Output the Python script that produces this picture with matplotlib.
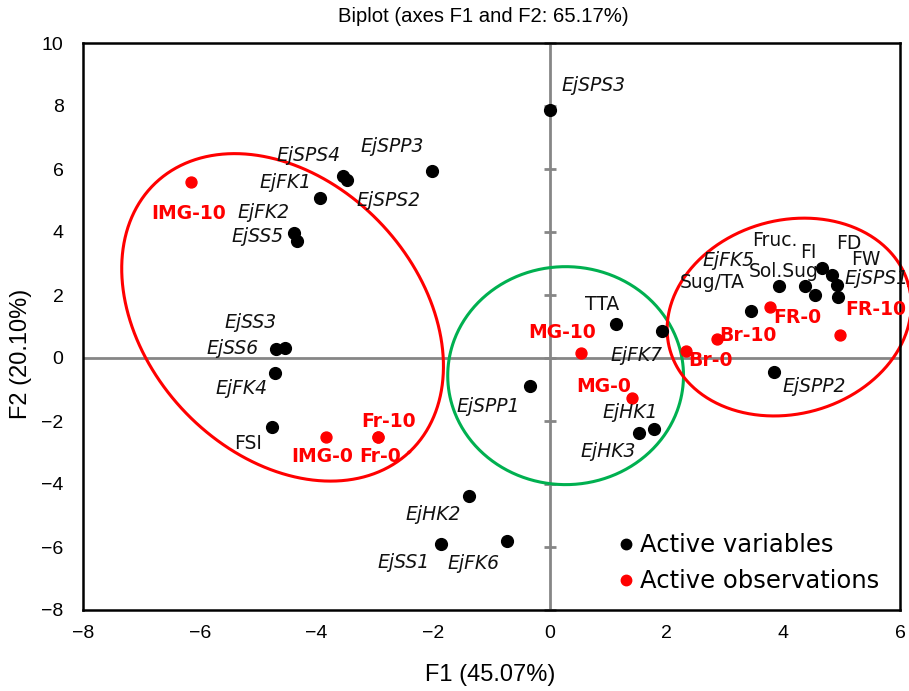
import numpy as np
import matplotlib
matplotlib.use("Agg")
import matplotlib.pyplot as plt
from matplotlib.lines import Line2D

# ---------------- data ----------------
var_names = ["EjSPS3", "EjSPP3", "EjSPS4", "EjSPS2", "EjFK1", "EjFK2", "EjSS5",
             "EjSS3", "EjSS6", "EjFK4", "FSI", "EjSPP1", "TTA", "EjFK7",
             "EjHK1", "EjHK3", "EjHK2", "EjSS1", "EjFK6", "Sug/TA", "EjFK5",
             "Sol.Sug", "Fruc.", "FI", "FD", "FW", "EjSPS1", "EjSPP2"]
var_f1 = [0.00, -2.02, -3.55, -3.48, -3.94, -4.38, -4.33,
          -4.54, -4.69, -4.71, -4.76, -0.34, 1.13, 1.92,
          1.78, 1.52, -1.39, -1.87, -0.74, 3.44, 3.92,
          4.37, 4.54, 4.66, 4.83, 4.92, 4.93, 3.84]
var_f2 = [7.87, 5.94, 5.78, 5.65, 5.08, 3.97, 3.71,
          0.32, 0.29, -0.48, -2.19, -0.89, 1.08, 0.86,
          -2.25, -2.38, -4.38, -5.90, -5.81, 1.49, 2.29,
          2.29, 2.00, 2.86, 2.63, 2.32, 1.94, -0.44]

obs_names = ["IMG-10", "IMG-0", "Fr-0", "Fr-10", "MG-10", "MG-0",
             "Br-0", "Br-10", "FR-0", "FR-10"]
obs_f1 = [-6.15, -3.84, -2.95, -2.95, 0.53, 1.41, 2.34, 2.86, 3.77, 4.98]
obs_f2 = [5.59, -2.51, -2.51, -2.51, 0.16, -1.27, 0.22, 0.60, 1.62, 0.73]

x_ticks = [-8, -6, -4, -2, 0, 2, 4, 6]
y_ticks = [-8, -6, -4, -2, 0, 2, 4, 6, 8, 10]

title = "Biplot (axes F1 and F2: 65.17%)"
xlabel = "F1 (45.07%)"
ylabel = "F2 (20.10%)"
legend_labels = ["Active variables", "Active observations"]

# ---------------- layout (label offsets in pixels) ----------------
var_offsets = [(44, 25), (-40, 24), (-34, 20), (42, -20), (-34, 15), (-31, 20), (-40, 5),
               (-34, 25), (-44, 0), (-33, -15), (-24, -17), (-42, -20), (-14, 19), (-25, -25),
               (-24, 16), (-30, -19), (-36, -19), (-37, -19), (-33, -22), (-38, 29), (-50, 25),
               (-21, 14), (-40, 55), (-13, 15), (17, 32), (29, 25), (39, 18), (40, -15)]
obs_offsets = [(-2, -32), (-4, -19), (2, -19), (11, 16), (-19, 20), (-28, 12),
               (24, -9), (31, 4), (27, -11), (35, 26)]
italic_vars = [n.startswith("Ej") for n in var_names]

# ellipses: center, first axis vector, second axis vector (data units)
ellipses = [
    ((-4.58, 1.29), (2.17, -4.28), (-1.70, -2.95), "#FF0000"),
    ((0.27, -0.56), (2.02, 0.0), (0.0, 3.46), "#00B050"),
    ((4.10, 1.30), (2.045, 1.025), (0.434, -2.968), "#FF0000"),
]

W, H, DPI = 909, 691, 100
fig = plt.figure(figsize=(W / DPI, H / DPI), dpi=DPI)
ax = fig.add_axes([83 / W, 81 / H, 817 / W, 567 / H])
ax.set_xlim(-8, 6)
ax.set_ylim(-8, 10)

gray = "#868686"
ax.axhline(0, color=gray, lw=2.0, zorder=1)
ax.axvline(0, color=gray, lw=2.0, zorder=1)
ax.plot(np.zeros(len(y_ticks)), y_ticks, ls="none", marker="_", ms=9,
        mew=2.0, color=gray, clip_on=False, zorder=1)

t = np.linspace(0, 2 * np.pi, 500)
for (cx, cy), (ux, uy), (vx, vy), col in ellipses:
    ax.plot(cx + ux * np.cos(t) + vx * np.sin(t),
            cy + uy * np.cos(t) + vy * np.sin(t),
            color=col, lw=2.2, clip_on=False, zorder=2)

ax.scatter(var_f1, var_f2, s=72, color="black", zorder=4, clip_on=False)
ax.scatter(obs_f1, obs_f2, s=62, color="#FF0000", zorder=5, clip_on=False)

for n, x, y, (dx, dy), it in zip(var_names, var_f1, var_f2, var_offsets, italic_vars):
    ax.annotate(n, (x, y), xytext=(dx, dy), textcoords="offset pixels",
                ha="center", va="center", fontsize=13.5,
                style="italic" if it else "normal", color="#111111",
                family="DejaVu Sans", annotation_clip=False, zorder=6)
for n, x, y, (dx, dy) in zip(obs_names, obs_f1, obs_f2, obs_offsets):
    ax.annotate(n, (x, y), xytext=(dx, dy), textcoords="offset pixels",
                ha="center", va="center", fontsize=13.5, fontweight="bold",
                color="#FF0000", family="DejaVu Sans",
                annotation_clip=False, zorder=6)

for s in ax.spines.values():
    s.set_linewidth(1.8)
    s.set_color("black")

ax.set_xticks(x_ticks)
ax.set_yticks(y_ticks)
ax.set_xticklabels(["\u2212" + str(abs(v)) if v < 0 else str(v) for v in x_ticks])
ax.set_yticklabels(["\u2212" + str(abs(v)) if v < 0 else str(v) for v in y_ticks])
ax.tick_params(length=0, labelsize=14, pad=0)
ax.tick_params(axis="y", pad=14)
ax.tick_params(axis="x", pad=11)
for lab in ax.get_xticklabels() + ax.get_yticklabels():
    lab.set_family("Liberation Sans")

fig.text(21 / W, 1 - 354 / H, ylabel, rotation=90, ha="center", va="center",
         fontsize=17, family="Liberation Sans")
fig.text(490 / W, 1 - 675 / H, xlabel, ha="center", va="center",
         fontsize=17, family="Liberation Sans")
fig.text(483 / W, 1 - 17 / H, title, ha="center", va="center",
         fontsize=14.6, family="Liberation Sans")

handles = [Line2D([], [], ls="none", marker="o", ms=7.5, color="black"),
           Line2D([], [], ls="none", marker="o", ms=7.5, color="#FF0000")]
leg = ax.legend(handles, legend_labels,
                loc="upper left", bbox_to_anchor=(609 / W, 1 - 521 / H),
                bbox_transform=fig.transFigure, frameon=False, borderpad=0,
                handlelength=0.4, handletextpad=0.38, labelspacing=0.5,
                prop={"family": "DejaVu Sans", "size": 17.5})

fig.savefig("out.png", dpi=DPI)
